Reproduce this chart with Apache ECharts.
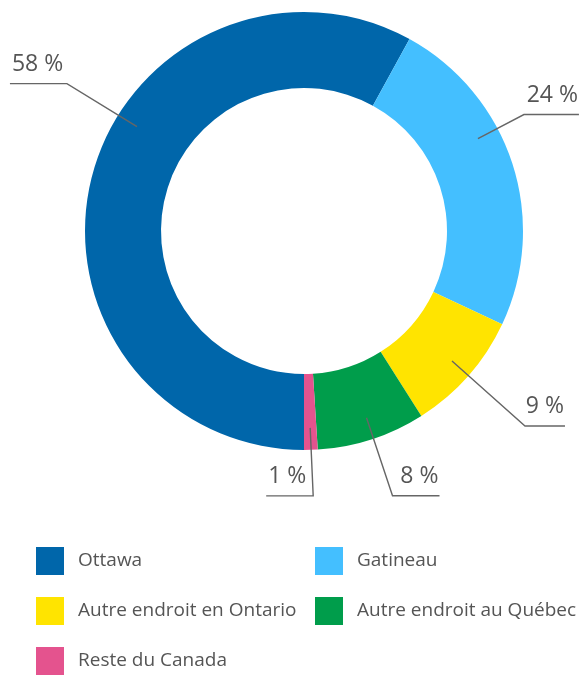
<!DOCTYPE html>
<html>
<head>
<meta charset="utf-8">
<script src="https://cdn.jsdelivr.net/npm/echarts@6/dist/echarts.min.js"></script>
<style>
html,body{margin:0;padding:0;background:#fff;}
#chart{width:584px;height:677px;}
</style>
</head>
<body>
<div id="chart"></div>
<script>
// ---- data ----
const categories = ['Ottawa', 'Gatineau', 'Autre endroit en Ontario', 'Autre endroit au Québec', 'Reste du Canada'];
const values = [58, 24, 9, 8, 1];
const colors = ['#0066aa', '#44bfff', '#ffe400', '#009d4b', '#e4538e'];
const legendLeft = ['Ottawa', 'Autre endroit en Ontario', 'Reste du Canada'];
const legendRight = ['Gatineau', 'Autre endroit au Québec'];

// ---- layout / style ----
const CENTER = [304, 231];
const R_IN = 143, R_OUT = 219, GUIDE_R = 197;
// label guide geometry: start angle on ring (deg clockwise from top), turn offset, horizontal run
const GUIDES = [
  {deg: 302, dx: -70, dy: -43, h: -57},
  {deg: 62, dx: 46, dy: -24, h: 55},
  {deg: 131.3, dx: 73, dy: 65, h: 40},
  {deg: 161.5, dx: 26, dy: 78, h: 47},
  {deg: 178.2, dx: 3, dy: 68, h: -47}
];
const FONT = '"Open Sans", "Noto Sans", sans-serif';
const TEXT = '#555555';

const chart = echarts.init(document.getElementById('chart'), null, {renderer: 'canvas'});

const legendBase = {
  orient: 'vertical',
  top: 547,
  height: 130,
  padding: 0,
  itemWidth: 28,
  itemHeight: 28,
  itemGap: 22,
  icon: 'rect',
  selectedMode: false,
  textStyle: {color: TEXT, fontSize: 19, fontWeight: 500, fontFamily: FONT, padding: [0, 0, 0, 9]}
};

const seriesData = categories.map((c, i) => ({name: c, value: values[i]}));

chart.setOption({
  animation: false,
  color: colors,
  legend: [
    Object.assign({}, legendBase, {left: 36, data: legendLeft}),
    Object.assign({}, legendBase, {left: 315, data: legendRight})
  ],
  series: [{
    type: 'pie',
    center: CENTER,
    radius: [R_IN, R_OUT],
    startAngle: 270,
    clockwise: true,
    silent: true,
    z: 1,
    data: seriesData,
    label: {show: false},
    labelLine: {show: false}
  }, {
    type: 'pie',
    center: CENTER,
    radius: [R_IN, R_OUT],
    startAngle: 270,
    clockwise: true,
    avoidLabelOverlap: false,
    silent: true,
    z: 5,
    data: seriesData,
    itemStyle: {color: 'rgba(0,0,0,0)'},
    label: {
      show: true,
      position: 'outside',
      formatter: '{c} %',
      color: TEXT,
      fontSize: 23,
      fontWeight: 500,
      lineHeight: 23,
      fontFamily: FONT
    },
    labelLine: {
      show: true,
      length: 20,
      length2: 20,
      lineStyle: {color: '#666666', width: 1.4}
    },
    labelLayout: function (p) {
      const g = GUIDES[p.dataIndex];
      const t = g.deg * Math.PI / 180;
      const x0 = CENTER[0] + GUIDE_R * Math.sin(t);
      const y0 = CENTER[1] - GUIDE_R * Math.cos(t);
      const x1 = x0 + g.dx, y1 = y0 + g.dy;
      const x2 = x1 + g.h;
      const left = g.h < 0;
      return {
        x: left ? x2 + 2 : x2 - 1,
        y: y1 - 8,
        align: left ? 'left' : 'right',
        verticalAlign: 'bottom',
        labelLinePoints: [[x0, y0], [x1, y1], [x2, y1]]
      };
    }
  }]
});
</script>
</body>
</html>
